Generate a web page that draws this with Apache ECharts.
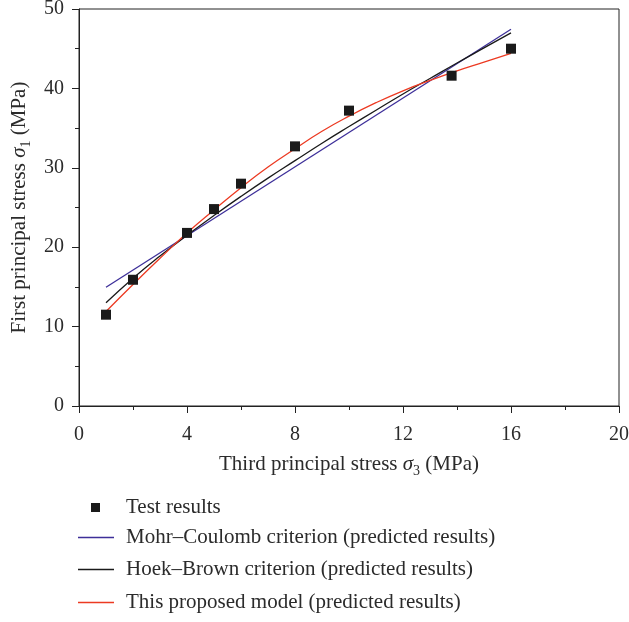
<!DOCTYPE html>
<html>
<head>
<meta charset="utf-8">
<script src="https://cdn.jsdelivr.net/npm/echarts@6/dist/echarts.min.js"></script>
<style>
  html, body { margin: 0; padding: 0; background: #fff; }
  #chart { width: 629px; height: 622px; }
</style>
</head>
<body>
<div id="chart"></div>
<script>
// Triaxial test results: sigma3 (MPa) vs sigma1 (MPa)
const testX = [1, 2, 4, 5, 6, 8, 10, 13.8, 16];
const testY = [11.5, 15.9, 21.8, 24.8, 28.0, 32.7, 37.2, 41.6, 45.0];

// Mohr–Coulomb prediction (straight line)
const mcX = [1, 16];
const mcY = [14.95, 47.45];

// Hoek–Brown prediction
const hbX = [1, 2, 3, 4, 5, 6, 7, 8, 9, 10, 11, 12, 13, 14, 15, 16];
const hbY = [13.0, 16.1, 18.9, 21.5, 24.0, 26.4, 28.7, 30.9, 33.1, 35.2, 37.25, 39.3, 41.25, 43.2, 45.1, 47.0];

// Proposed model prediction
const pmX = [1, 2, 3, 4, 5, 6, 7, 8, 9, 10, 11, 12, 13, 14, 15, 16];
const pmY = [11.9, 15.3, 18.6, 21.8, 24.7, 27.5, 30.1, 32.4, 34.6, 36.5, 38.2, 39.7, 41.0, 42.2, 43.3, 44.4];

const seriesNames = [
  'Test results',
  'Mohr\u2013Coulomb criterion (predicted results)',
  'Hoek\u2013Brown criterion (predicted results)',
  'This proposed model (predicted results)'
];
const seriesColors = ['#1a1a1a', '#3d2f99', '#1a1a1a', '#ec3a22'];

const FONT = 'Liberation Serif';
const TXT = '#2b2b2b';
const AX = '#222';

const zip = (xs, ys) => xs.map((x, i) => [x, ys[i]]);

const nameStyle = {
  fontFamily: FONT, fontSize: 21, color: TXT,
  rich: {
    i: { fontFamily: FONT, fontSize: 21, fontStyle: 'italic', color: TXT },
    sub: { fontFamily: FONT, fontSize: 14, color: TXT, verticalAlign: 'bottom', lineHeight: 14, padding: [0, 0, -3, 0] }
  }
};

// one legend block per entry, stacked under the plot
const legendTops = [497, 527, 559, 592];
const legends = seriesNames.map((n, k) => k === 0 ? {
  data: [n], orient: 'vertical', left: 91, top: legendTops[k], padding: 0,
  itemWidth: 9, itemHeight: 9, icon: 'rect', selectedMode: false,
  textStyle: { fontFamily: FONT, fontSize: 21, color: TXT, padding: [0, 0, 0, 21] }
} : {
  data: [n], orient: 'vertical', left: 78, top: legendTops[k], padding: 0,
  itemWidth: 36, itemHeight: 1.4, icon: 'rect', selectedMode: false,
  textStyle: { fontFamily: FONT, fontSize: 21, color: TXT, padding: [0, 0, 0, 7] }
});

const chart = echarts.init(document.getElementById('chart'), null, { renderer: 'canvas' });

chart.setOption({
  backgroundColor: '#fff',
  animation: false,
  grid: {
    left: 79, right: 10, top: 9, bottom: 216,
    containLabel: false, outerBoundsMode: 'none',
    show: true, borderColor: AX, borderWidth: 1, backgroundColor: 'transparent'
  },
  xAxis: {
    type: 'value', min: 0, max: 20, interval: 4,
    name: 'Third principal stress {i|\u03c3}{sub|3} (MPa)',
    nameLocation: 'middle', nameGap: 48,
    nameTextStyle: nameStyle,
    axisLine: { show: true, lineStyle: { color: AX, width: 1 } },
    axisTick: { show: true, length: 7, lineStyle: { color: AX } },
    minorTick: { show: true, splitNumber: 2, length: 4, lineStyle: { color: AX } },
    splitLine: { show: false },
    axisLabel: { fontFamily: FONT, fontSize: 20, color: TXT, margin: 19 }
  },
  yAxis: {
    type: 'value', min: 0, max: 50, interval: 10,
    name: 'First principal stress {i|\u03c3}{sub|1} (MPa)',
    nameLocation: 'middle', nameGap: 49,
    nameTextStyle: nameStyle,
    axisLine: { show: true, lineStyle: { color: AX, width: 1 } },
    axisTick: { show: true, length: 7, lineStyle: { color: AX } },
    minorTick: { show: true, splitNumber: 2, length: 4, lineStyle: { color: AX } },
    splitLine: { show: false },
    axisLabel: { fontFamily: FONT, fontSize: 20, color: TXT, margin: 15 }
  },
  legend: legends,
  series: [
    {
      name: seriesNames[0], type: 'scatter', data: zip(testX, testY),
      symbol: 'rect', symbolSize: 10, itemStyle: { color: seriesColors[0], opacity: 1 }, z: 5
    },
    {
      name: seriesNames[1], type: 'line', data: zip(mcX, mcY),
      showSymbol: false, symbol: 'none', lineStyle: { color: seriesColors[1], width: 1.3 }, itemStyle: { color: seriesColors[1] }
    },
    {
      name: seriesNames[2], type: 'line', data: zip(hbX, hbY), smooth: true,
      showSymbol: false, symbol: 'none', lineStyle: { color: seriesColors[2], width: 1.3 }, itemStyle: { color: seriesColors[2] }
    },
    {
      name: seriesNames[3], type: 'line', data: zip(pmX, pmY), smooth: true,
      showSymbol: false, symbol: 'none', lineStyle: { color: seriesColors[3], width: 1.3 }, itemStyle: { color: seriesColors[3] }
    }
  ]
});
</script>
</body>
</html>
